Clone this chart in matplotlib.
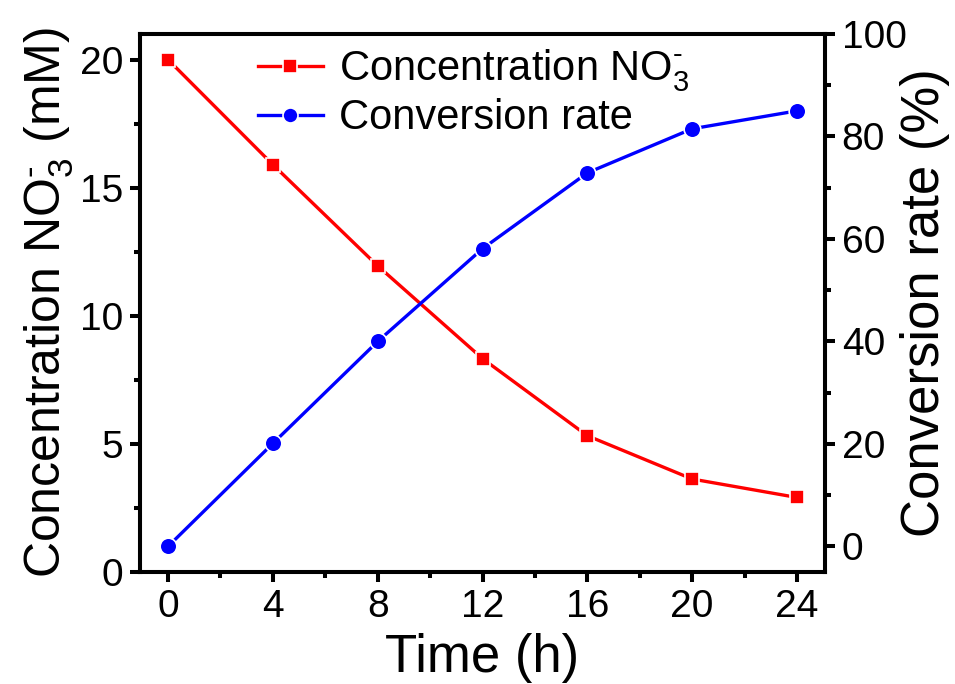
import matplotlib.pyplot as plt
from matplotlib.ticker import MultipleLocator

plt.rcParams['font.family'] = ['Liberation Sans', 'DejaVu Sans']
plt.rcParams['mathtext.fontset'] = 'custom'
plt.rcParams['mathtext.rm'] = 'Liberation Sans'

time_h = [0, 4, 8, 12, 16, 20, 24]
conc_no3 = [20.0, 15.9, 11.95, 8.33, 5.32, 3.63, 2.91]
conv_rate = [0.0, 20.1, 40.0, 58.1, 72.9, 81.5, 85.0]

no3 = r'NO$_3^{\text{-}}$'

fig = plt.figure(figsize=(9.55, 6.84), dpi=100)
ax = fig.add_axes([0.1466, 0.1637, 0.7173, 0.7866])
ax2 = ax.twinx()

l1, = ax.plot(time_h, conc_no3, color='#ff0000', lw=2.4, marker='s', ms=10.5,
              mec='white', mew=1.2, label='Concentration ' + no3, zorder=3)
l2, = ax2.plot(time_h, conv_rate, color='#0000ff', lw=2.4, marker='o', ms=12,
               mec='white', mew=1.2, label='Conversion rate', zorder=3)

ax.set_xlim(-1.07, 25.07)
ax.set_ylim(0, 21)
ax2.set_ylim(-5, 100)

ax.xaxis.set_major_locator(MultipleLocator(4))
ax.xaxis.set_minor_locator(MultipleLocator(2))
ax.yaxis.set_major_locator(MultipleLocator(5))
ax.yaxis.set_minor_locator(MultipleLocator(2.5))
ax2.yaxis.set_major_locator(MultipleLocator(20))
ax2.yaxis.set_minor_locator(MultipleLocator(10))

for a in (ax, ax2):
    for s in a.spines.values():
        s.set_linewidth(2.9)
    a.tick_params(which='major', length=7, width=2.9, labelsize=28,
                  direction='out', pad=5)
    a.tick_params(which='minor', length=4, width=2.9, direction='out')

ax.set_xlabel('Time (h)', fontsize=38, labelpad=6)
ax.set_ylabel('Concentration ' + no3 + ' (mM)', fontsize=36, labelpad=3)
ax2.set_ylabel('Conversion rate (%)', fontsize=38, rotation=90, labelpad=-5)

ax.legend(handles=[l1, l2], loc='upper left', bbox_to_anchor=(0.172, 0.975),
          borderaxespad=0, borderpad=0, frameon=False, fontsize=30,
          markerscale=0.9, handlelength=1.56, handletextpad=0.4,
          labelspacing=0.1)

fig.savefig('out.png', dpi=100)
